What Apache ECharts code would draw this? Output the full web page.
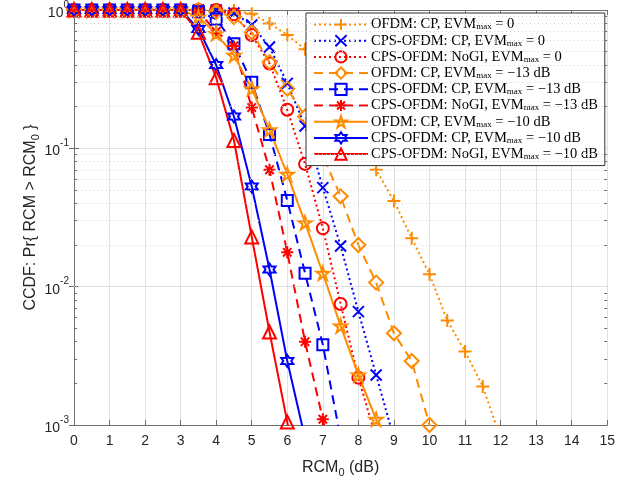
<!DOCTYPE html>
<html>

<head>
    <meta charset="utf-8" />
    <script src="https://cdn.jsdelivr.net/npm/echarts@6/dist/echarts.min.js"></script>
</head>

<body style="margin:0;background:#fff;">
    <div id="main" style="width: 618px;height:486px;"></div>
    <script type="text/javascript">
        // RCM0 (dB) sample points, every 0.5 dB
        const RCM0 = [0, 0.5, 1, 1.5, 2, 2.5, 3, 3.5, 4, 4.5, 5, 5.5, 6, 6.5, 7, 7.5, 8, 8.5, 9, 9.5, 10, 10.5, 11, 11.5, 12];

        // CCDF values, index i <-> RCM0[i]
        const ofdmCp0 = [1, 1, 1, 1, 1, 1, 1, 1, 1, 0.99, 0.94, 0.80, 0.66, 0.52, 0.33, 0.20, 0.12, 0.07, 0.0416, 0.0224, 0.0123, 0.0057, 0.0034, 0.0019, 0.0008];
        const cpsCp0 = [1, 1, 1, 1, 1, 1, 1, 1, 1, 0.95, 0.78, 0.54, 0.295, 0.145, 0.052, 0.0197, 0.0066, 0.0023, 0.0008];
        const cpsNoGi0 = [1, 1, 1, 1, 1, 1, 1, 1, 1, 0.93, 0.66, 0.41, 0.19, 0.077, 0.0264, 0.0075, 0.0022, 0.0008];
        const ofdmCp13 = [1, 1, 1, 1, 1, 1, 1, 1, 0.97, 0.89, 0.69, 0.42, 0.27, 0.17, 0.088, 0.045, 0.020, 0.0107, 0.0046, 0.0029, 0.001, 0.0003];
        const cpsCp13 = [1, 1, 1, 1, 1, 1, 1, 0.97, 0.86, 0.57, 0.30, 0.126, 0.042, 0.0125, 0.0038, 0.0008];
        const cpsNoGi13 = [1, 1, 1, 1, 1, 1, 1, 0.97, 0.70, 0.55, 0.197, 0.070, 0.0177, 0.0040, 0.0011, 0.0003];
        const ofdmCp10 = [1, 1, 1, 1, 1, 1, 1, 0.89, 0.675, 0.47, 0.27, 0.136, 0.065, 0.029, 0.0125, 0.0052, 0.0023, 0.0011, 0.0004];
        const cpsCp10 = [1, 1, 1, 1, 1, 1, 1, 0.73, 0.40, 0.17, 0.053, 0.0133, 0.0029, 0.0008];
        const cpsNoGi10 = [1, 1, 1, 1, 1, 1, 1, 0.69, 0.324, 0.114, 0.0229, 0.0047, 0.00105, 0.0002];

        // legend labels: [before subscript, subscript, after]
        const LABELS = [
            ['OFDM: CP, EVM', 'max', ' = 0'],
            ['CPS-OFDM: CP, EVM', 'max', ' = 0'],
            ['CPS-OFDM: NoGI, EVM', 'max', ' = 0'],
            ['OFDM: CP, EVM', 'max', ' = \u221213 dB'],
            ['CPS-OFDM: CP, EVM', 'max', ' = \u221213 dB'],
            ['CPS-OFDM: NoGI, EVM', 'max', ' = \u221213 dB'],
            ['OFDM: CP, EVM', 'max', ' = \u221210 dB'],
            ['CPS-OFDM: CP, EVM', 'max', ' = \u221210 dB'],
            ['CPS-OFDM: NoGI, EVM', 'max', ' = \u221210 dB']
        ];

        const ORANGE = '#ff8c00';
        const BLUE = '#0000ff';
        const RED = '#ff0000';
        const DOTTED = [2, 3];
        const DASHED = [9, 6];

        const SYM = {
            plus: 'path://M0,5L10,5M5,0L5,10',
            cross: 'path://M0,0L10,10M0,10L10,0',
            aster: 'path://M0,5L10,5M5,0L5,10M1.5,1.5L8.5,8.5M1.5,8.5L8.5,1.5',
            star: 'path://M5,0L6.123,3.455L9.755,3.455L6.816,5.59L7.939,9.045L5,6.91L2.061,9.045L3.184,5.59L0.245,3.455L3.877,3.455Z',
            hexa: 'path://M5,0L6.443,2.5L9.33,2.5L7.887,5L9.33,7.5L6.443,7.5L5,10L3.557,7.5L0.67,7.5L2.113,5L0.67,2.5L3.557,2.5Z'
        };

        const CURVES = [
            [ofdmCp0, ORANGE, DOTTED, SYM.plus, 13],
            [cpsCp0, BLUE, DOTTED, SYM.cross, 11],
            [cpsNoGi0, RED, DOTTED, 'circle', 12],
            [ofdmCp13, ORANGE, DASHED, 'diamond', 14],
            [cpsCp13, BLUE, DASHED, 'rect', 11],
            [cpsNoGi13, RED, DASHED, SYM.aster, 12],
            [ofdmCp10, ORANGE, 'solid', SYM.star, 13],
            [cpsCp10, BLUE, 'solid', SYM.hexa, 12],
            [cpsNoGi10, RED, 'solid', 'triangle', 13]
        ];

        const AXIS_GRAY = '#6f6f6f';
        const TEXT_GRAY = '#262626';

        // minor log grid positions
        const minorY = [];
        [0.001, 0.01, 0.1].forEach(d => {
            for (let k = 2; k <= 9; k++) minorY.push(+(d * k).toPrecision(3));
        });

        const series = [{
            type: 'line',
            data: [[0, 1]],
            showSymbol: false,
            silent: true,
            lineStyle: { opacity: 0 },
            z: 1,
            markLine: {
                silent: true,
                symbol: 'none',
                label: { show: false },
                animation: false,
                lineStyle: { color: '#d2d2d2', type: [1, 3], width: 1 },
                data: minorY.map(v => ({ yAxis: v }))
            }
        }, {
            type: 'line',
            data: [[0, 1]],
            showSymbol: false,
            silent: true,
            lineStyle: { opacity: 0 },
            z: 3,
            markLine: {
                silent: true,
                symbol: 'none',
                label: { show: false },
                animation: false,
                lineStyle: { color: AXIS_GRAY, type: 'solid', width: 1 },
                data: minorY.flatMap(v => [
                    [{ coord: [0, v] }, { coord: [0.085, v] }],
                    [{ coord: [14.915, v] }, { coord: [15, v] }]
                ])
            }
        }];

        CURVES.forEach(([vals, color, type, symbol, size], i) => {
            series.push({
                name: 's' + i,
                type: 'line',
                data: vals.map((v, j) => [RCM0[j], v]),
                symbol: symbol,
                symbolSize: size,
                clip: true,
                animation: false,
                lineStyle: { color: color, width: 2, type: type },
                itemStyle: { color: 'rgba(255,255,255,0)', borderColor: color, borderWidth: 2 },
                emphasis: { disabled: true }
            });
        });

        const sup = { fontSize: 10, verticalAlign: 'top', lineHeight: 20, color: TEXT_GRAY, fontFamily: 'Liberation Sans' };
        const base = { fontSize: 14, lineHeight: 20, verticalAlign: 'bottom', color: TEXT_GRAY, fontFamily: 'Liberation Sans' };

        const chart = echarts.init(document.getElementById('main'), null, { renderer: 'canvas' });
        chart.setOption({
            animation: false,
            backgroundColor: '#fff',
            grid: { left: 74, right: 10, top: 8, bottom: 61 },
            legend: {
                orient: 'vertical',
                left: 306,
                top: 13,
                data: CURVES.map((c, i) => 's' + i),
                itemWidth: 54,
                itemHeight: 14,
                itemGap: 1.2,
                padding: [4, 7, 4, 7],
                backgroundColor: '#fff',
                borderColor: '#303030',
                borderWidth: 1,
                borderRadius: 0,
                selectedMode: false,
                textStyle: {
                    fontFamily: 'Liberation Serif',
                    fontSize: 14.5,
                    color: '#000',
                    padding: [0, 0, 0, -2],
                    rich: {
                        t: { fontFamily: 'Liberation Serif', fontSize: 14.5, lineHeight: 14, verticalAlign: 'middle', color: '#000' },
                        m: { fontFamily: 'Liberation Serif', fontSize: 9, lineHeight: 8, verticalAlign: 'bottom', color: '#000' }
                    }
                },
                formatter: function (name) {
                    const l = LABELS[+name.slice(1)];
                    return '{t|' + l[0] + '}{m|' + l[1] + '}{t|' + l[2] + '}';
                }
            },
            xAxis: [{
                type: 'value',
                min: 0,
                max: 15,
                interval: 1,
                name: 'RCM{s|0} (dB)',
                nameLocation: 'middle',
                nameGap: 32,
                nameTextStyle: {
                    fontFamily: 'Liberation Sans', fontSize: 16, color: TEXT_GRAY,
                    rich: { s: { fontFamily: 'Liberation Sans', fontSize: 11, color: TEXT_GRAY, padding: [10, 0, 0, 0] } }
                },
                axisLine: { lineStyle: { color: AXIS_GRAY } },
                axisTick: { inside: true, length: 5, lineStyle: { color: AXIS_GRAY } },
                axisLabel: { color: TEXT_GRAY, fontSize: 14, fontFamily: 'Liberation Sans', margin: 9 },
                splitLine: { show: true, lineStyle: { color: '#e2e2e2' } }
            }, {
                type: 'value',
                position: 'top',
                min: 0,
                max: 15,
                interval: 1,
                axisLine: { show: true, lineStyle: { color: AXIS_GRAY } },
                axisTick: { show: true, inside: true, length: 5, lineStyle: { color: AXIS_GRAY } },
                axisLabel: { show: false },
                splitLine: { show: false }
            }],
            yAxis: [{
                type: 'log',
                logBase: 10,
                min: 0.001,
                max: 1,
                name: 'CCDF: Pr{ RCM > RCM{s|0} }',
                nameLocation: 'middle',
                nameGap: 33,
                nameMoveOverlap: false,
                nameTextStyle: {
                    fontFamily: 'Liberation Sans', fontSize: 16, color: TEXT_GRAY,
                    rich: { s: { fontFamily: 'Liberation Sans', fontSize: 11, color: TEXT_GRAY, padding: [10, 0, 0, 0] } }
                },
                axisLine: { lineStyle: { color: AXIS_GRAY } },
                axisTick: { inside: true, length: 5, lineStyle: { color: AXIS_GRAY } },
                axisLabel: {
                    margin: 5,
                    formatter: v => '{b|10}{s|' + Math.round(Math.log10(v)) + '}',
                    rich: { b: base, s: sup }
                },
                splitLine: { show: true, lineStyle: { color: '#e2e2e2' } }
            }, {
                type: 'log',
                logBase: 10,
                min: 0.001,
                max: 1,
                position: 'right',
                axisLine: { show: true, lineStyle: { color: AXIS_GRAY } },
                axisTick: { show: true, inside: true, length: 5, lineStyle: { color: AXIS_GRAY } },
                axisLabel: { show: false },
                splitLine: { show: false }
            }],
            series: series
        });
    </script>
</body>

</html>
